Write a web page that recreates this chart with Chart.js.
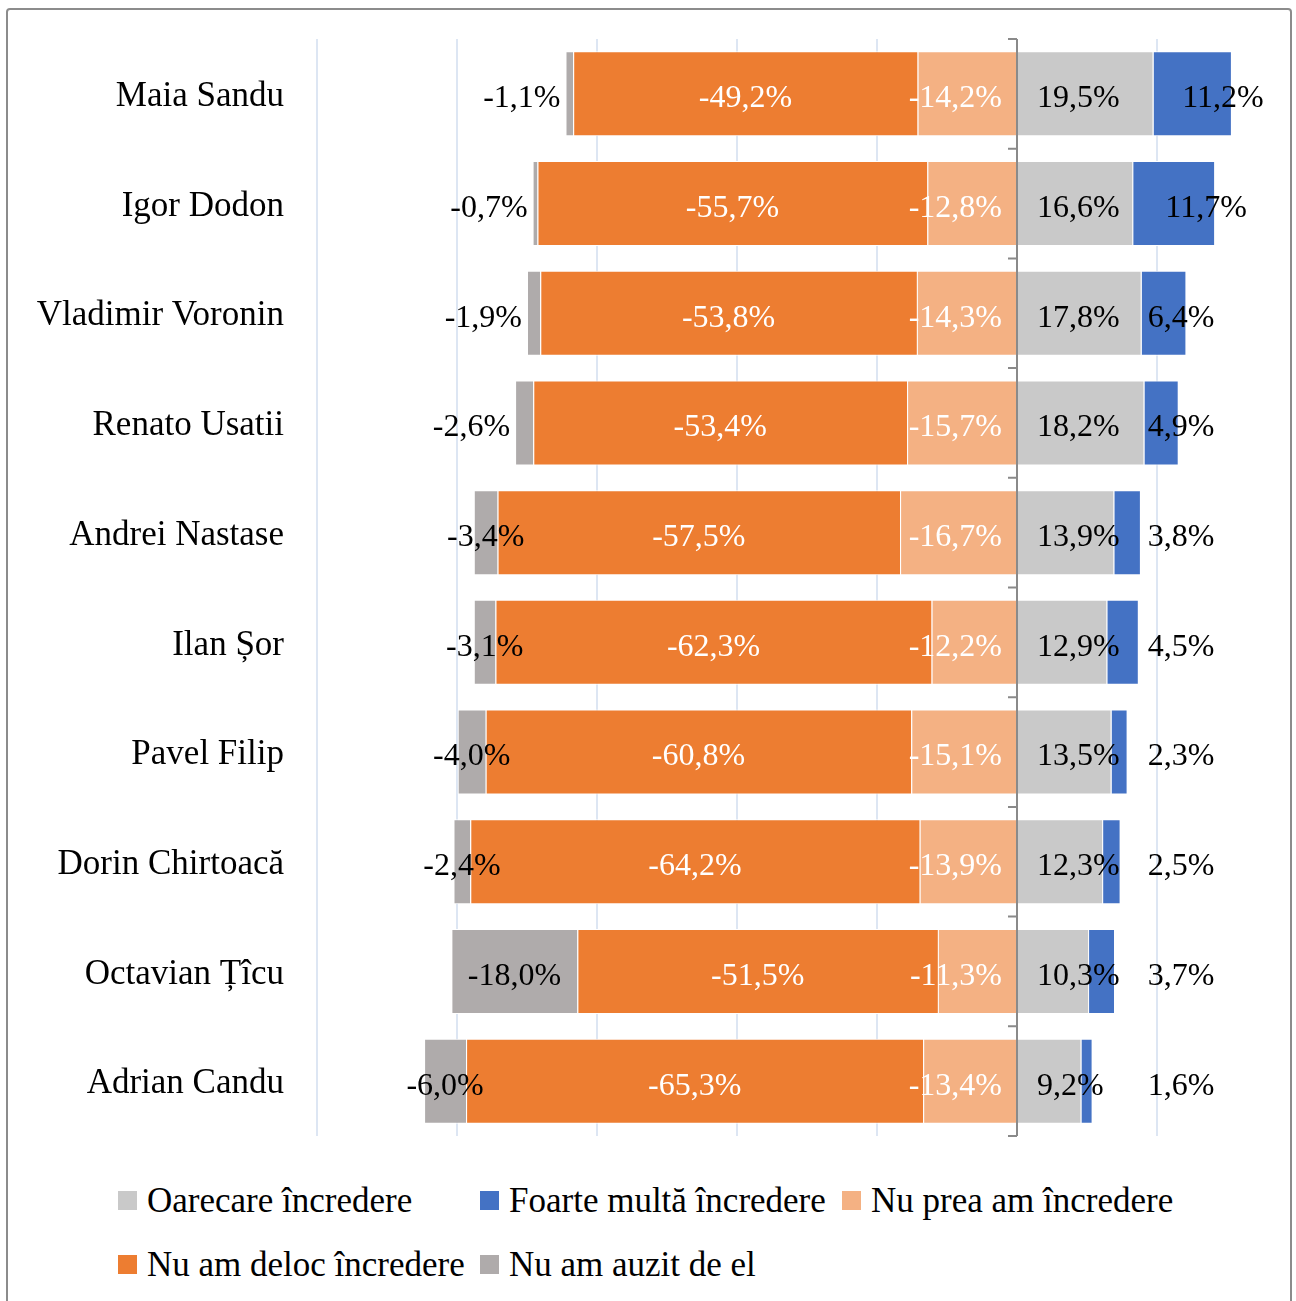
<!DOCTYPE html>
<html>
<head>
<meta charset="utf-8">
<script src="https://cdn.jsdelivr.net/npm/chart.js@4.4.0/dist/chart.umd.min.js"></script>
<style>
  html, body { margin: 0; padding: 0; background: #fff; }
  #wrap { position: relative; width: 1296px; height: 1301px; overflow: hidden; }
  #frame { position: absolute; left: 6px; top: 8px; width: 1286px; height: 1300px; border: 2px solid #8c8c8c; border-radius: 4px; box-sizing: border-box; }
  #chart { position: absolute; left: 0; top: 0; }
  .lg { position: absolute; font-family: "Liberation Serif", serif; font-size: 35px; color: #000; white-space: nowrap; line-height: 38px; }
  .lg i { position: absolute; left: -29px; top: 9px; width: 19px; height: 19px; }
</style>
</head>
<body>
<div id="wrap">
  <div id="frame"></div>
  <canvas id="chart" width="1296" height="1150"></canvas>
  <div id="legend"></div>
</div>
<script>
// --- DATA ---
const candidates = ['Maia Sandu', 'Igor Dodon', 'Vladimir Voronin', 'Renato Usatii', 'Andrei Nastase', 'Ilan Șor', 'Pavel Filip', 'Dorin Chirtoacă', 'Octavian Țîcu', 'Adrian Candu'];
const oarecare = [19.5, 16.6, 17.8, 18.2, 13.9, 12.9, 13.5, 12.3, 10.3, 9.2];
const foarteMulta = [11.2, 11.7, 6.4, 4.9, 3.8, 4.5, 2.3, 2.5, 3.7, 1.6];
const nuPrea = [-14.2, -12.8, -14.3, -15.7, -16.7, -12.2, -15.1, -13.9, -11.3, -13.4];
const nuDeloc = [-49.2, -55.7, -53.8, -53.4, -57.5, -62.3, -60.8, -64.2, -51.5, -65.3];
const nuAuzit = [-1.1, -0.7, -1.9, -2.6, -3.4, -3.1, -4.0, -2.4, -18.0, -6.0];
const seriesNames = ['Oarecare încredere', 'Foarte multă încredere', 'Nu prea am încredere', 'Nu am deloc încredere', 'Nu am auzit de el'];

const colors = ['#c9c9c9', '#4472c4', '#f4b183', '#ed7d31', '#afabab'];
const FONT = '"Liberation Serif", serif';

const fmt = v => v.toFixed(1).replace('.', ',') + '%';

// data labels drawn by hand (Excel-like placement)
const labelPlugin = {
    id: 'barLabels',
    afterDatasetsDraw(chart) {
        const ctx = chart.ctx;
        const xs = chart.scales.x;
        const x0 = xs.getPixelForValue(0);
        ctx.save();
        ctx.font = '32px ' + FONT;
        ctx.textBaseline = 'middle';
        chart.data.datasets.forEach((ds, di) => {
            const meta = chart.getDatasetMeta(di);
            meta.data.forEach((el, i) => {
                const v = ds.data[i];
                const left = Math.min(el.x, el.base), right = Math.max(el.x, el.base);
                const y = el.y + 5;
                const txt = fmt(v);
                ctx.fillStyle = (di === 2 || di === 3) ? '#fff' : '#000';
                if (di === 0) {
                    ctx.textAlign = 'left';
                    ctx.fillText(txt, x0 + 20, y);
                } else if (di === 1) {
                    ctx.textAlign = 'center';
                    ctx.fillText(txt, Math.max(right - 9, x0 + 164), y);
                } else if (di === 2) {
                    ctx.textAlign = 'right';
                    ctx.fillText(txt, right - 14, y);
                } else if (di === 3) {
                    ctx.textAlign = 'center';
                    ctx.fillText(txt, (left + right) / 2, y);
                } else {
                    if (left > xs.getPixelForValue(-75)) {
                        ctx.textAlign = 'right';
                        ctx.fillText(txt, left - 5, y);
                    } else {
                        ctx.textAlign = 'center';
                        ctx.fillText(txt, (left + right) / 2, y);
                    }
                }
            });
        });
        ctx.restore();
    }
};

// zero axis with tick marks between categories
const zeroAxis = {
    id: 'zeroAxis',
    afterDatasetsDraw(chart) {
        const ctx = chart.ctx;
        const a = chart.chartArea;
        const x0 = Math.round(chart.scales.x.getPixelForValue(0));
        const n = candidates.length;
        ctx.save();
        ctx.strokeStyle = '#8a8a8a';
        ctx.lineWidth = 2;
        ctx.beginPath();
        ctx.moveTo(x0, a.top);
        ctx.lineTo(x0, a.bottom);
        for (let k = 0; k <= n; k++) {
            const y = a.top + (a.bottom - a.top) * k / n;
            ctx.moveTo(x0 - 9, y);
            ctx.lineTo(x0, y);
        }
        ctx.stroke();
        ctx.restore();
    }
};

const seriesData = [oarecare, foarteMulta, nuPrea, nuDeloc, nuAuzit];

new Chart(document.getElementById('chart'), {
    type: 'bar',
    data: {
        labels: candidates,
        datasets: seriesData.map((d, i) => ({
            label: seriesNames[i],
            data: d,
            backgroundColor: colors[i],
            borderColor: '#ffffff',
            borderWidth: 1,
            categoryPercentage: 1,
            barPercentage: 0.775
        }))
    },
    options: {
        indexAxis: 'y',
        responsive: false,
        animation: false,
        layout: { padding: { top: 39, bottom: 14, left: 0, right: 6 } },
        plugins: { legend: { display: false }, tooltip: { enabled: false } },
        scales: {
            x: {
                stacked: true,
                min: -100,
                max: 39,
                ticks: { display: false, stepSize: 20 },
                border: { display: false },
                grid: {
                    drawTicks: false,
                    lineWidth: 2,
                    color: c => (c.tick && c.tick.value !== 0 && c.tick.value % 20 === 0) ? '#dde6f3' : 'rgba(0,0,0,0)'
                },
                afterFit: s => { s.height = 0; s.paddingLeft = 0; s.paddingRight = 0; }
            },
            y: {
                stacked: true,
                border: { display: false },
                grid: { display: false, drawTicks: false },
                ticks: { color: '#000', font: { family: FONT, size: 35 }, padding: 33, labelOffset: 3 },
                afterFit: s => { s.width = 317; s.paddingTop = 0; s.paddingBottom = 0; }
            }
        }
    },
    plugins: [labelPlugin, zeroAxis]
});

// legend in fixed columns
const legendPos = [[147, 1182], [509, 1182], [871, 1182], [147, 1246], [509, 1246]];
const lg = document.getElementById('legend');
seriesNames.forEach((name, i) => {
    const d = document.createElement('div');
    d.className = 'lg';
    d.style.left = legendPos[i][0] + 'px';
    d.style.top = legendPos[i][1] + 'px';
    d.innerHTML = '<i style="background:' + colors[i] + '"></i>' + name;
    lg.appendChild(d);
});
</script>
</body>
</html>
